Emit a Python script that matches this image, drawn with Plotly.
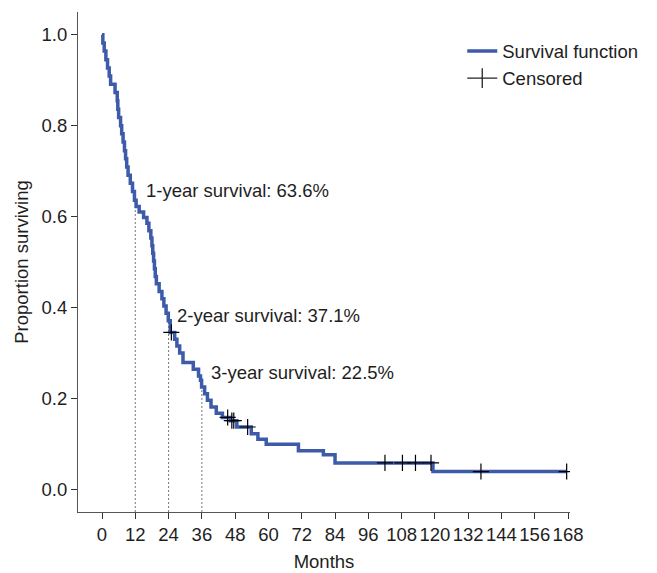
import numpy as np
import plotly.graph_objects as go

# Kaplan-Meier step points (time in months, survival after the step)
event_times = [0, 0.3, 0.8, 1.4, 2.0, 2.6, 3.1, 4.7, 5.5, 5.7, 6.0, 6.7, 7.1, 7.6, 8.1, 8.5,
               8.9, 9.4, 10.2, 11.0, 11.7,
               12.3, 13.4, 15.0, 16.2, 16.9, 17.6, 18.0, 18.3, 18.6, 18.9, 19.2, 19.6, 20.6,
               21.6, 22.3, 23.1, 23.9,
               24.6, 26.2, 27.0, 28.0, 29.2, 32.9, 34.8, 35.5, 35.9, 37.0, 38.0, 39.3,
               41.2, 43.4, 46.3, 48.6, 53.8, 56.2, 59.2, 70.8, 79.8, 84.0, 119.3]
survival = [1.000, 0.982, 0.964, 0.945, 0.927, 0.909, 0.891, 0.873, 0.855, 0.836, 0.818,
            0.800, 0.782, 0.764, 0.745, 0.727, 0.709, 0.691, 0.673, 0.655, 0.636,
            0.622, 0.610, 0.598, 0.585, 0.569, 0.553, 0.536, 0.519, 0.502, 0.485, 0.468,
            0.452, 0.435, 0.419, 0.403, 0.387, 0.371,
            0.345, 0.330, 0.315, 0.300, 0.279, 0.264, 0.249, 0.240, 0.225, 0.210, 0.196,
            0.181, 0.167, 0.158, 0.151, 0.137, 0.122, 0.110, 0.099, 0.085, 0.076, 0.058,
            0.039]
censor_times = [25.0, 45.3, 46.8, 47.5, 52.5, 102.0, 108.3, 113.0, 118.6, 136.6, 167.5]

milestone_months = [12, 24, 36]
milestone_survival = [0.636, 0.371, 0.225]
milestone_labels = ["1-year survival: 63.6%", "2-year survival: 37.1%", "3-year survival: 22.5%"]
label_pos_x = [15.2, 26.2, 38.4]
label_pos_y = [0.657, 0.383, 0.258]

x_ticks = list(range(0, 169, 12))
y_ticks = [0.0, 0.2, 0.4, 0.6, 0.8, 1.0]

n = min(len(event_times), len(survival))
ev_t = np.array(event_times[:n])
ev_s = np.array(survival[:n])
censor_s = [float(ev_s[np.searchsorted(ev_t, c, side="right") - 1]) for c in censor_times]

line_x = [float(v) for v in ev_t] + [censor_times[-1]]
line_y = [float(v) for v in ev_s] + [float(ev_s[-1])]

FONT = "Liberation Sans, Arial, Helvetica, sans-serif"
BLUE = "#3d5ba9"
TXT = "#1e1e1e"
Y_MIN = -0.05

fig = go.Figure()
fig.add_trace(go.Scatter(x=line_x, y=line_y, mode="lines", line_shape="hv",
                         line=dict(color=BLUE, width=3.5), name="Survival function"))
fig.add_trace(go.Scatter(x=censor_times, y=censor_s, mode="markers", name="Censored",
                         showlegend=False, legendgroup="c",
                         marker=dict(symbol="cross-thin", size=11.5,
                                     line=dict(color="black", width=1.2))))
# legend entry for censored marks (line with a cross, as in the reference legend)
fig.add_trace(go.Scatter(x=[None], y=[None], mode="lines+markers", name="Censored",
                         legendgroup="c", line=dict(color="#222222", width=1.3),
                         marker=dict(symbol="line-ns", size=14,
                                     line=dict(color="#222222", width=1.3))))

for m, s in zip(milestone_months, milestone_survival):
    fig.add_shape(type="line", x0=m, x1=m, y0=Y_MIN, y1=s, xref="x", yref="y",
                  line=dict(color="#777777", width=1, dash="2px,2px"), layer="below")

for lx, ly, txt in zip(label_pos_x, label_pos_y, milestone_labels):
    fig.add_annotation(x=lx, y=ly, text=txt, showarrow=False, xanchor="left",
                       yanchor="middle", font=dict(family=FONT, size=18.5, color=TXT))

fig.update_layout(
    width=657, height=573,
    margin=dict(l=78, r=87, t=12, b=61),
    paper_bgcolor="white", plot_bgcolor="white",
    font=dict(family=FONT, size=18.5, color=TXT),
    showlegend=True,
    legend=dict(x=0.781, y=0.959, xanchor="left", yanchor="top",
                bgcolor="rgba(0,0,0,0)", font=dict(family=FONT, size=18.5, color=TXT),
                tracegroupgap=0, itemwidth=30),
)
fig.update_xaxes(range=[-8.65, 168.7], tickvals=x_ticks, ticktext=[str(v) for v in x_ticks],
                 showgrid=False, zeroline=False, showline=True, linecolor="#555555",
                 linewidth=1, ticks="outside", ticklen=6, tickcolor="#333333",
                 automargin=False, tickfont=dict(size=18.5, color=TXT),
                 title=dict(text="Months", standoff=10, font=dict(size=18.5, color=TXT)))
fig.update_yaxes(range=[Y_MIN, 1.05], tickvals=y_ticks, tickformat=".1f",
                 showgrid=False, zeroline=False, showline=True, linecolor="#555555",
                 linewidth=1, ticks="outside", ticklen=6, tickcolor="#333333",
                 automargin=False, tickfont=dict(size=18.5, color=TXT),
                 title=dict(text="Proportion surviving", standoff=8, font=dict(size=18.5, color=TXT)))

fig.write_html("out.html", config={"displayModeBar": False},
               post_script="document.body.style.margin='0px';")
